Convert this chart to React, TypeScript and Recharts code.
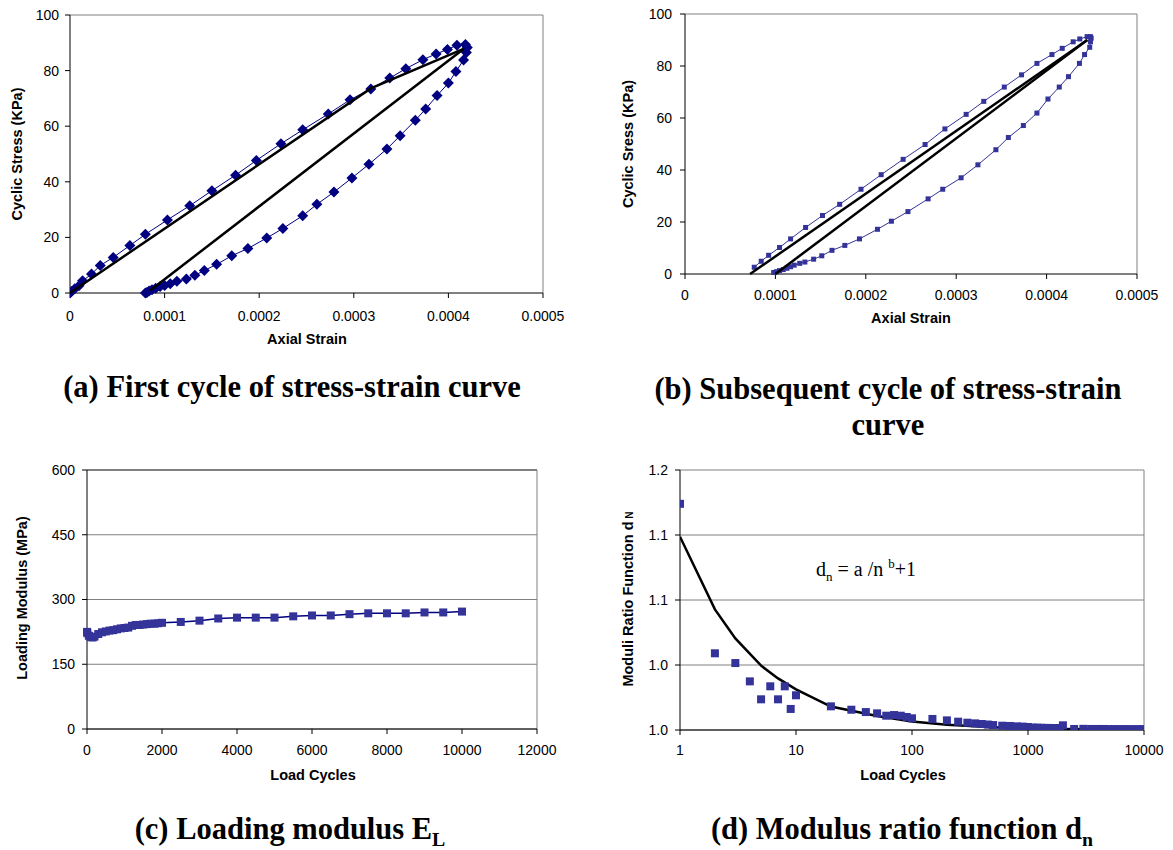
import React from 'react';
import { ScatterChart, Scatter, XAxis, YAxis, CartesianGrid, ReferenceLine } from 'recharts';

const SANS = '"Liberation Sans", Arial, Helvetica, sans-serif';
const SERIF = '"Liberation Serif", "Times New Roman", Times, serif';

/* ---- (a) first cycle of stress-strain curve ---- */
const firstCycleStrain = [
  0, 0.0000015, 0.000005, 0.0000095, 0.0000133, 0.0000227, 0.000032, 0.0000457, 0.0000633, 0.0000797,
  0.000103, 0.0001266, 0.00015, 0.000175, 0.000197, 0.000223, 0.000246, 0.000273, 0.000296, 0.000318,
  0.000338, 0.000355, 0.000373, 0.000387, 0.000399, 0.000409, 0.000418, 0.00042, 0.000419, 0.000416,
  0.000408, 0.0004, 0.000388, 0.000376, 0.000365, 0.000349, 0.000335, 0.000316, 0.000298, 0.000279,
  0.000261, 0.000246, 0.000225, 0.000208, 0.000188, 0.000171, 0.000155, 0.000142, 0.000132, 0.000123,
  0.000113, 0.000106, 0.0001, 0.0000953, 0.0000906, 0.0000867, 0.0000836, 0.0000813, 0.0000797,
];
const firstCycleStress = [
  0, 0.5, 1.5, 2.6, 4.4, 6.8, 9.9, 12.8, 17.1, 21.1,
  26.3, 31.4, 36.8, 42.4, 47.7, 53.7, 58.7, 64.4, 69.5, 73.4,
  77.3, 80.7, 83.9, 86.0, 87.6, 89.1, 89.4, 88.3, 86.5, 83.8,
  79.7, 75.5, 71.0, 66.2, 62.1, 56.6, 51.8, 46.3, 41.4, 36.3,
  31.9, 27.8, 23.2, 19.8, 16.0, 13.4, 10.3, 8.1, 6.4, 5.0,
  4.2, 3.3, 2.7, 2.3, 1.7, 1.2, 0.7, 0.2, 0,
];
const firstLoadLineStrain = [0, 0.000318, 0.000416];
const firstLoadLineStress = [0, 73.6, 87.8];
const firstUnloadLineStrain = [0.000085, 0.000416];
const firstUnloadLineStress = [1, 87.8];

/* ---- (b) subsequent cycle ---- */
const nextCycleStrain = [
  0.0000766, 0.0000843, 0.0000925, 0.0001046, 0.0001168, 0.0001334, 0.0001521, 0.0001711, 0.0001947, 0.000217,
  0.0002413, 0.0002656, 0.0002875, 0.000311, 0.0003305, 0.0003532, 0.0003723, 0.0003893, 0.0004059, 0.0004173,
  0.0004294, 0.0004367, 0.0004448, 0.0004485, 0.0004493, 0.0004485, 0.0004477, 0.000442, 0.0004363, 0.0004242,
  0.000414, 0.0004015, 0.0003893, 0.0003743, 0.0003577, 0.0003439, 0.000324, 0.0003054, 0.0002851, 0.0002689,
  0.0002466, 0.0002283, 0.0002129, 0.000193, 0.0001768, 0.0001626, 0.0001513, 0.0001423, 0.0001326, 0.0001269,
  0.0001208, 0.0001168, 0.0001127, 0.0001087, 0.0001046, 0.0001014, 0.0000981,
];
const nextCycleStress = [
  2.6, 4.9, 7.2, 10.2, 13.5, 17.9, 22.5, 26.8, 32.6, 38.2,
  44.1, 49.8, 55.8, 61.4, 66.4, 71.9, 76.6, 81.0, 84.4, 86.8,
  89.3, 90.4, 91.3, 91.3, 90.7, 89.3, 87.2, 84.4, 81.0, 75.9,
  71.9, 67.3, 61.9, 57.1, 52.5, 47.8, 42.0, 37.0, 32.6, 28.9,
  24.0, 20.3, 17.2, 13.5, 11.0, 9.1, 7.0, 5.7, 4.6, 4.1,
  3.4, 2.8, 2.2, 1.7, 1.3, 0.9, 0.6,
];
const nextLoadLineStrain = [0.000072, 0.000445];
const nextLoadLineStress = [0, 90];
const nextUnloadLineStrain = [0.0001, 0.000445];
const nextUnloadLineStress = [0, 90];

const strainTicks = [0, 0.0001, 0.0002, 0.0003, 0.0004, 0.0005];
const strainTickLabels = ['0', '0.0001', '0.0002', '0.0003', '0.0004', '0.0005'];
const stressTicks = [0, 20, 40, 60, 80, 100];

/* ---- (c) loading modulus ---- */
const modulusCycles = [
  1, 10, 50, 100, 150, 200, 300, 400, 500, 600, 700, 800, 900, 1000, 1100, 1200, 1300, 1400, 1500, 1600,
  1700, 1800, 1900, 2000, 2500, 3000, 3500, 4000, 4500, 5000, 5500, 6000, 6500, 7000, 7500, 8000, 8500, 9000,
  9500, 10000,
];
const modulusValues = [
  225, 222, 216, 213, 212, 214, 220, 224, 226, 228, 229, 231, 233, 234, 235, 239, 241, 241, 242, 243,
  244, 244, 245, 246, 248, 251, 256, 258, 258, 258, 261, 263, 263, 266, 268, 268, 268, 270,
  270, 272,
];
const cycleTicks = [0, 2000, 4000, 6000, 8000, 10000, 12000];
const modulusTicks = [0, 150, 300, 450, 600];

/* ---- (d) modulus ratio function ---- */
const ratioCycles = [
  1, 2, 3, 4, 5, 6, 7, 8, 9, 10, 20, 30, 40, 50, 60, 70, 80, 90, 100, 150, 200, 250, 300, 350, 400, 450, 500,
  600, 700, 800, 900, 1000, 1100, 1200, 1300, 1400, 1500, 1600, 1700, 1800, 1900, 2000, 2500, 3000, 3500,
  4000, 4500, 5000, 5500, 6000, 6500, 7000, 7500, 8000, 8500, 9000, 9500, 10000,
];
const ratioValues = [
  1.174, 1.059, 1.0515, 1.0374, 1.0236, 1.0336, 1.0236, 1.0336, 1.0162, 1.0267, 1.0182, 1.0156, 1.0138,
  1.0128, 1.011, 1.0115, 1.011, 1.01, 1.009, 1.0085, 1.0074, 1.0064, 1.0056, 1.0051, 1.0046, 1.0042, 1.0038,
  1.0033, 1.0031, 1.0028, 1.0026, 1.0023, 1.0019, 1.0018, 1.0017, 1.0016, 1.0016, 1.0015, 1.0015, 1.0014,
  1.0014, 1.0036, 1.0008, 1.0009, 1.0008, 1.0008, 1.0008, 1.0007, 1.0007, 1.0006, 1.0006, 1.0006, 1.0005,
  1.0005, 1.0005, 1.0005, 1.0005, 1.0005,
];
const fitCycles = [1, 2, 3, 5, 7, 10, 20, 50, 100, 200, 500, 1000, 2000, 5000, 10000];
const fitValues = [1.1487, 1.0928, 1.0705, 1.0495, 1.0397, 1.0313, 1.018, 1.0108, 1.0065, 1.0041, 1.0022, 1.0014, 1.0008, 1.0005, 1.0003];
const logTicks = [1, 10, 100, 1000, 10000];
const ratioTicks = [1.0, 1.05, 1.1, 1.15, 1.2];
const ratioTickLabels = ['1.0', '1.0', '1.1', '1.1', '1.2'];

const zip = (xs: number[], ys: number[]) => xs.map((x, i) => ({ x, y: ys[i] }));

/* ---- marker shapes ---- */
const diamond = (fill: string, r: number) => (p: any) => (
  <path d={`M${p.cx},${p.cy - r}L${p.cx + r},${p.cy}L${p.cx},${p.cy + r}L${p.cx - r},${p.cy}Z`} fill={fill} />
);
const square = (fill: string, s: number) => (p: any) => (
  <rect x={p.cx - s / 2} y={p.cy - s / 2} width={s} height={s} fill={fill} />
);
const noMark = () => <g />;

const tickStyle = { fill: '#000', fontSize: 14, fontFamily: SANS };
const axisLine = { stroke: '#000', strokeWidth: 1 };

function Centered({ x, y, rotate, style, children }: any) {
  return (
    <div
      style={{
        position: 'absolute',
        left: x,
        top: y,
        transform: `translate(-50%, -50%)${rotate ? ' rotate(-90deg)' : ''}`,
        whiteSpace: 'nowrap',
        lineHeight: 1,
        ...style,
      }}
    >
      {children}
    </div>
  );
}

const axisTitle = { fontFamily: SANS, fontWeight: 700, fontSize: 14.5, color: '#000' };
const caption = { fontFamily: SERIF, fontWeight: 700, fontSize: 30.5, color: '#000' };

export default function App() {
  return (
    <div style={{ position: 'absolute', left: 0, top: 0, width: 1173, height: 850, background: '#fff', overflow: 'hidden' }}>
      {/* (a) */}
      <div style={{ position: 'absolute', left: 0, top: 0 }}>
        <ScatterChart width={590} height={350} margin={{ top: 15, right: 47, left: 8, bottom: 0 }}>
          <XAxis
            dataKey="x" type="number" domain={[0, 0.0005]} ticks={strainTicks}
            tickFormatter={(v: number, i: number) => strainTickLabels[i]}
            height={57} tickSize={5} tickMargin={13} tick={tickStyle} axisLine={axisLine} tickLine={axisLine}
            interval={0} allowDataOverflow
          />
          <YAxis
            dataKey="y" type="number" domain={[0, 100]} ticks={stressTicks}
            width={62} tickSize={5} tickMargin={6} tick={tickStyle} axisLine={axisLine} tickLine={axisLine}
            interval={0}
          />
          <ReferenceLine y={100} stroke="#808080" />
          <ReferenceLine x={0.0005} stroke="#808080" />
          <Scatter
            data={zip(firstCycleStrain, firstCycleStress)} isAnimationActive={false}
            line={{ stroke: '#000080', strokeWidth: 1 }} shape={diamond('#000080', 5.5)}
          />
          <Scatter
            data={zip(firstLoadLineStrain, firstLoadLineStress)} isAnimationActive={false}
            line={{ stroke: '#000', strokeWidth: 2.5 }} shape={noMark}
          />
          <Scatter
            data={zip(firstUnloadLineStrain, firstUnloadLineStress)} isAnimationActive={false}
            line={{ stroke: '#000', strokeWidth: 2.5 }} shape={noMark}
          />
        </ScatterChart>
      </div>

      {/* (b) */}
      <div style={{ position: 'absolute', left: 600, top: 0 }}>
        <ScatterChart width={573} height={330} margin={{ top: 14, right: 36, left: 25, bottom: 0 }}>
          <XAxis
            dataKey="x" type="number" domain={[0, 0.0005]} ticks={strainTicks}
            tickFormatter={(v: number, i: number) => strainTickLabels[i]}
            height={56} tickSize={5} tickMargin={11} tick={tickStyle} axisLine={axisLine} tickLine={axisLine}
            interval={0}
          />
          <YAxis
            dataKey="y" type="number" domain={[0, 100]} ticks={stressTicks}
            width={60} tickSize={5} tickMargin={8} tick={tickStyle} axisLine={axisLine} tickLine={axisLine}
            interval={0}
          />
          <ReferenceLine y={100} stroke="#808080" />
          <ReferenceLine x={0.0005} stroke="#808080" />
          <Scatter
            data={zip(nextCycleStrain, nextCycleStress)} isAnimationActive={false}
            line={{ stroke: '#333399', strokeWidth: 1 }} shape={square('#333399', 5)}
          />
          <Scatter
            data={zip(nextLoadLineStrain, nextLoadLineStress)} isAnimationActive={false}
            line={{ stroke: '#000', strokeWidth: 2.5 }} shape={noMark}
          />
          <Scatter
            data={zip(nextUnloadLineStrain, nextUnloadLineStress)} isAnimationActive={false}
            line={{ stroke: '#000', strokeWidth: 2.5 }} shape={noMark}
          />
        </ScatterChart>
      </div>

      {/* (c) */}
      <div style={{ position: 'absolute', left: 0, top: 440 }}>
        <ScatterChart width={590} height={340} margin={{ top: 30, right: 53, left: 25, bottom: 0 }}>
          <CartesianGrid vertical={false} stroke="#808080" />
          <XAxis
            dataKey="x" type="number" domain={[0, 12000]} ticks={cycleTicks}
            height={51} tickSize={5} tickMargin={11} tick={tickStyle} axisLine={axisLine} tickLine={axisLine}
            interval={0}
          />
          <YAxis
            dataKey="y" type="number" domain={[0, 600]} ticks={modulusTicks}
            width={62} tickSize={5} tickMargin={7} tick={tickStyle} axisLine={axisLine} tickLine={axisLine}
            interval={0}
          />
          <ReferenceLine y={600} stroke="#404040" />
          <ReferenceLine x={12000} stroke="#808080" />
          <Scatter
            data={zip(modulusCycles, modulusValues)} isAnimationActive={false}
            line={{ stroke: '#000080', strokeWidth: 1.5 }} shape={square('#333399', 8)}
          />
        </ScatterChart>
      </div>

      {/* (d) */}
      <div style={{ position: 'absolute', left: 600, top: 440 }}>
        <ScatterChart width={573} height={340} margin={{ top: 30, right: 29, left: 18, bottom: 0 }}>
          <CartesianGrid vertical={false} stroke="#808080" />
          <XAxis
            dataKey="x" type="number" scale="log" domain={[1, 10000]} ticks={logTicks}
            height={50} tickSize={5} tickMargin={10} tick={tickStyle} axisLine={axisLine} tickLine={axisLine}
            interval={0} allowDataOverflow
          />
          <YAxis
            dataKey="y" type="number" domain={[1.0, 1.2]} ticks={ratioTicks}
            tickFormatter={(v: number, i: number) => ratioTickLabels[i]}
            width={62} tickSize={5} tickMargin={7} tick={tickStyle} axisLine={axisLine} tickLine={axisLine}
            interval={0} allowDataOverflow
          />
          <ReferenceLine x={10000} stroke="#808080" />
          <Scatter
            data={zip(fitCycles, fitValues)} isAnimationActive={false}
            line={{ stroke: '#000', strokeWidth: 2.5 }} shape={noMark}
          />
          <Scatter
            data={zip(ratioCycles, ratioValues)} isAnimationActive={false}
            shape={square('#333399', 8)}
          />
        </ScatterChart>
      </div>

      {/* axis titles */}
      <Centered x={17} y={154} rotate style={axisTitle}>Cyclic Stress (KPa)</Centered>
      <Centered x={307} y={339} style={axisTitle}>Axial Strain</Centered>
      <Centered x={628} y={144} rotate style={axisTitle}>Cyclic Sress (KPa)</Centered>
      <Centered x={911} y={318} style={axisTitle}>Axial Strain</Centered>
      <Centered x={22} y={598} rotate style={axisTitle}>Loading Modulus (MPa)</Centered>
      <Centered x={313} y={775} style={axisTitle}>Load Cycles</Centered>
      <Centered x={628} y={599} rotate style={axisTitle}>
        Moduli Ratio Function d<span style={{ fontSize: '0.7em' }}> N</span>
      </Centered>
      <Centered x={903} y={775} style={axisTitle}>Load Cycles</Centered>

      {/* fitted-curve formula */}
      <Centered x={866} y={570} style={{ fontFamily: SERIF, fontSize: 20, color: '#000' }}>
        d<sub style={{ fontSize: '0.65em' }}>n</sub> = a /n <sup style={{ fontSize: '0.65em' }}>b</sup>+1
      </Centered>

      {/* captions */}
      <Centered x={292} y={387} style={caption}>(a) First cycle of stress-strain curve</Centered>
      <Centered x={888} y={389} style={caption}>(b) Subsequent cycle of stress-strain</Centered>
      <Centered x={888} y={425} style={caption}>curve</Centered>
      <Centered x={290} y={832} style={caption}>
        (c) Loading modulus E<sub style={{ fontSize: '0.65em' }}>L</sub>
      </Centered>
      <Centered x={902} y={832} style={caption}>
        (d) Modulus ratio function d<sub style={{ fontSize: '0.65em' }}>n</sub>
      </Centered>
    </div>
  );
}
